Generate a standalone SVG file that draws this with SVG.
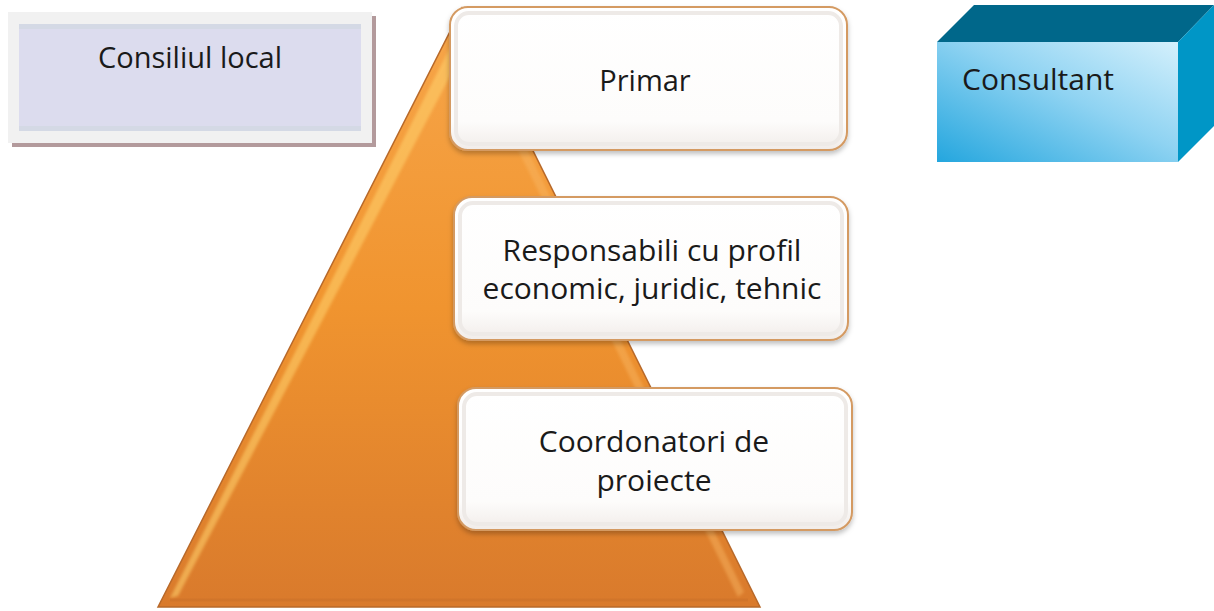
<svg xmlns="http://www.w3.org/2000/svg" width="1214" height="611" viewBox="0 0 1214 611">
<defs>
<style>
.t{font-family:"Open Sans","Noto Sans",sans-serif;fill:#1a1a1a;font-size:30px}
.box{fill:url(#boxg);stroke:#d49a62;stroke-width:2}
.bevel{fill:none;stroke:#eeeae7;stroke-width:4}
</style>
<linearGradient id="tri" x1="0" y1="0" x2="0" y2="1">
<stop offset="0" stop-color="#f7a64a"/>
<stop offset="0.5" stop-color="#f0942f"/>
<stop offset="1" stop-color="#d97a2c"/>
</linearGradient>
<linearGradient id="boxg" x1="0" y1="0" x2="0" y2="1">
<stop offset="0" stop-color="#ffffff"/>
<stop offset="0.8" stop-color="#fdfcfb"/>
<stop offset="1" stop-color="#f1ece9"/>
</linearGradient>
<linearGradient id="cons" x1="0" y1="1" x2="1" y2="0">
<stop offset="0" stop-color="#24a6de"/>
<stop offset="0.55" stop-color="#8fd3f2"/>
<stop offset="1" stop-color="#d4f0fc"/>
</linearGradient>
<filter id="sh" x="-10%" y="-10%" width="120%" height="130%">
<feDropShadow dx="0" dy="3" stdDeviation="2.5" flood-color="#000" flood-opacity="0.25"/>
</filter>
<filter id="blur"><feGaussianBlur stdDeviation="1.5"/></filter>
</defs>

<g id="consiliul">
<rect x="12" y="16" width="364" height="131" fill="#b39a9c"/>
<rect x="8" y="12" width="364" height="131" fill="#f1f1f1"/>
<rect x="19" y="24" width="342" height="107" fill="#dcdcee"/>
<rect x="19" y="24" width="342" height="5" fill="#d4d9e5"/>
<rect x="19" y="126" width="342" height="5" fill="#d4d9e5"/>
<text class="t" x="190" y="68" text-anchor="middle" style="font-size:29px">Consiliul local</text>
</g>

<g id="pyramid">
<polygon points="462,8 760,607 158,607" fill="url(#tri)" stroke="#b8692a" stroke-width="1.5"/>
<polygon points="462,24 469,40 178,596 170,598" fill="#ffd36e" opacity="0.55" filter="url(#blur)"/>
<polygon points="470,32 744,592 738,597 466,44" fill="#f9b865" opacity="0.45" filter="url(#blur)"/>
<line x1="170" y1="600" x2="748" y2="600" stroke="#c9702a" stroke-width="3" opacity="0.5"/>
</g>

<g id="primar">
<rect x="450" y="7" width="397" height="143" rx="18" class="box" filter="url(#sh)"/>
<rect x="456" y="13" width="385" height="131" rx="13" class="bevel"/>
<text class="t" x="645" y="91" text-anchor="middle" style="font-size:29px">Primar</text>
</g>

<g id="responsabili">
<rect x="454" y="197" width="394" height="143" rx="18" class="box" filter="url(#sh)"/>
<rect x="460" y="203" width="382" height="131" rx="13" class="bevel"/>
<text class="t" x="652" y="261" text-anchor="middle">Responsabili cu profil</text>
<text class="t" x="652" y="299" text-anchor="middle">economic, juridic, tehnic</text>
</g>

<g id="coordonatori">
<rect x="458" y="388" width="394" height="142" rx="18" class="box" filter="url(#sh)"/>
<rect x="464" y="394" width="382" height="130" rx="13" class="bevel"/>
<text class="t" x="654" y="452" text-anchor="middle">Coordonatori de</text>
<text class="t" x="654" y="491" text-anchor="middle">proiecte</text>
</g>

<g id="consultant">
<polygon points="937,42 1178,42 1214,5 974,5" fill="#00678a"/>
<polygon points="1178,42 1214,5 1214,126 1178,162" fill="#0096c6"/>
<rect x="937" y="42" width="241" height="120" fill="url(#cons)"/>
<text class="t" x="962" y="90">Consultant</text>
</g>

<g id="connectors"></g>
</svg>
